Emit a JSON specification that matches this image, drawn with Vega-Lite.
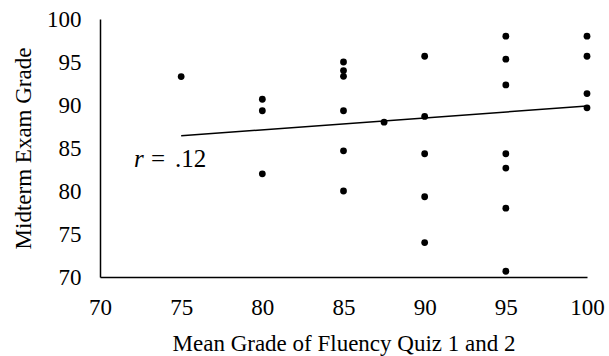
{
  "$schema": "https://vega.github.io/schema/vega-lite/v6.json",
  "width": 487,
  "height": 258,
  "autosize": {"type": "none"},
  "padding": {"left": 100, "top": 19, "right": 22, "bottom": 79},
  "background": "white",
  "config": {
    "view": {"stroke": null},
    "font": "Liberation Serif",
    "axis": {
      "grid": false,
      "ticks": false,
      "domainColor": "black",
      "domainWidth": 1.5,
      "labelColor": "black",
      "titleColor": "black",
      "labelFont": "Liberation Serif",
      "titleFont": "Liberation Serif",
      "labelFontSize": 23,
      "titleFontSize": 23,
      "titleFontWeight": "normal",
      "labelFlush": false,
      "labelOverlap": false
    }
  },
  "layer": [
    {
      "data": {
        "values": [
          {"quiz": 75, "midterm": 93.3},
          {"quiz": 80, "midterm": 90.67},
          {"quiz": 80, "midterm": 89.33},
          {"quiz": 80, "midterm": 82.0},
          {"quiz": 85, "midterm": 95.0},
          {"quiz": 85, "midterm": 94.0},
          {"quiz": 85, "midterm": 93.33},
          {"quiz": 85, "midterm": 89.33},
          {"quiz": 85, "midterm": 84.67},
          {"quiz": 85, "midterm": 80.0},
          {"quiz": 87.5, "midterm": 88.0},
          {"quiz": 90, "midterm": 95.67},
          {"quiz": 90, "midterm": 88.67},
          {"quiz": 90, "midterm": 84.33},
          {"quiz": 90, "midterm": 79.33},
          {"quiz": 90, "midterm": 74.0},
          {"quiz": 95, "midterm": 98.0},
          {"quiz": 95, "midterm": 95.33},
          {"quiz": 95, "midterm": 92.33},
          {"quiz": 95, "midterm": 84.33},
          {"quiz": 95, "midterm": 82.67},
          {"quiz": 95, "midterm": 78.0},
          {"quiz": 95, "midterm": 70.67},
          {"quiz": 100, "midterm": 98.0},
          {"quiz": 100, "midterm": 95.67},
          {"quiz": 100, "midterm": 91.33},
          {"quiz": 100, "midterm": 89.67}
        ]
      },
      "mark": {"type": "circle", "size": 46, "color": "black", "opacity": 1},
      "encoding": {
        "x": {
          "field": "quiz",
          "type": "quantitative",
          "scale": {"domain": [70, 100], "nice": false, "zero": false},
          "axis": {
            "title": "Mean Grade of Fluency Quiz 1 and 2",
            "values": [70, 75, 80, 85, 90, 95, 100],
            "labelFont": "Liberation Serif, Times New Roman, serif",
            "labelFontSize": 23,
            "labelPadding": 37,
            "labelBaseline": "alphabetic",
            "titleY": 73,
            "titleBaseline": "alphabetic"
          }
        },
        "y": {
          "field": "midterm",
          "type": "quantitative",
          "scale": {"domain": [70, 100], "nice": false, "zero": false},
          "axis": {
            "title": "Midterm Exam Grade",
            "values": [70, 75, 80, 85, 90, 95, 100],
            "labelFont": "Liberation Serif, Times New Roman, serif",
            "labelFontSize": 23,
            "labelPadding": 19,
            "labelBaseline": "middle",
            "titleX": -70,
            "titleY": 129,
            "titleAngle": -90,
            "titleAlign": "center",
            "titleBaseline": "alphabetic"
          }
        }
      }
    },
    {
      "data": {
        "values": [
          {"quiz": 75, "midterm": 86.43},
          {"quiz": 100, "midterm": 89.88}
        ]
      },
      "mark": {"type": "line", "color": "black", "strokeWidth": 1.5},
      "encoding": {
        "x": {"field": "quiz", "type": "quantitative"},
        "y": {"field": "midterm", "type": "quantitative"}
      }
    },
    {
      "data": {"values": [{"label": "r", "quiz": 72.09, "midterm": 82.79}]},
      "mark": {"type": "text", "font": "Liberation Serif", "fontStyle": "italic", "fontSize": 25, "align": "left", "baseline": "alphabetic", "color": "black"},
      "encoding": {
        "x": {"field": "quiz", "type": "quantitative"},
        "y": {"field": "midterm", "type": "quantitative"},
        "text": {"field": "label"}
      }
    },
    {
      "data": {"values": [{"label": "=", "quiz": 73.57, "midterm": 82.79}]},
      "mark": {"type": "text", "font": "Liberation Serif", "fontSize": 25, "align": "center", "baseline": "alphabetic", "color": "black"},
      "encoding": {
        "x": {"field": "quiz", "type": "quantitative"},
        "y": {"field": "midterm", "type": "quantitative"},
        "text": {"field": "label"}
      }
    },
    {
      "data": {"values": [{"label": ".12", "quiz": 74.62, "midterm": 82.79}]},
      "mark": {"type": "text", "font": "Liberation Serif", "fontSize": 25, "align": "left", "baseline": "alphabetic", "color": "black"},
      "encoding": {
        "x": {"field": "quiz", "type": "quantitative"},
        "y": {"field": "midterm", "type": "quantitative"},
        "text": {"field": "label"}
      }
    }
  ]
}
